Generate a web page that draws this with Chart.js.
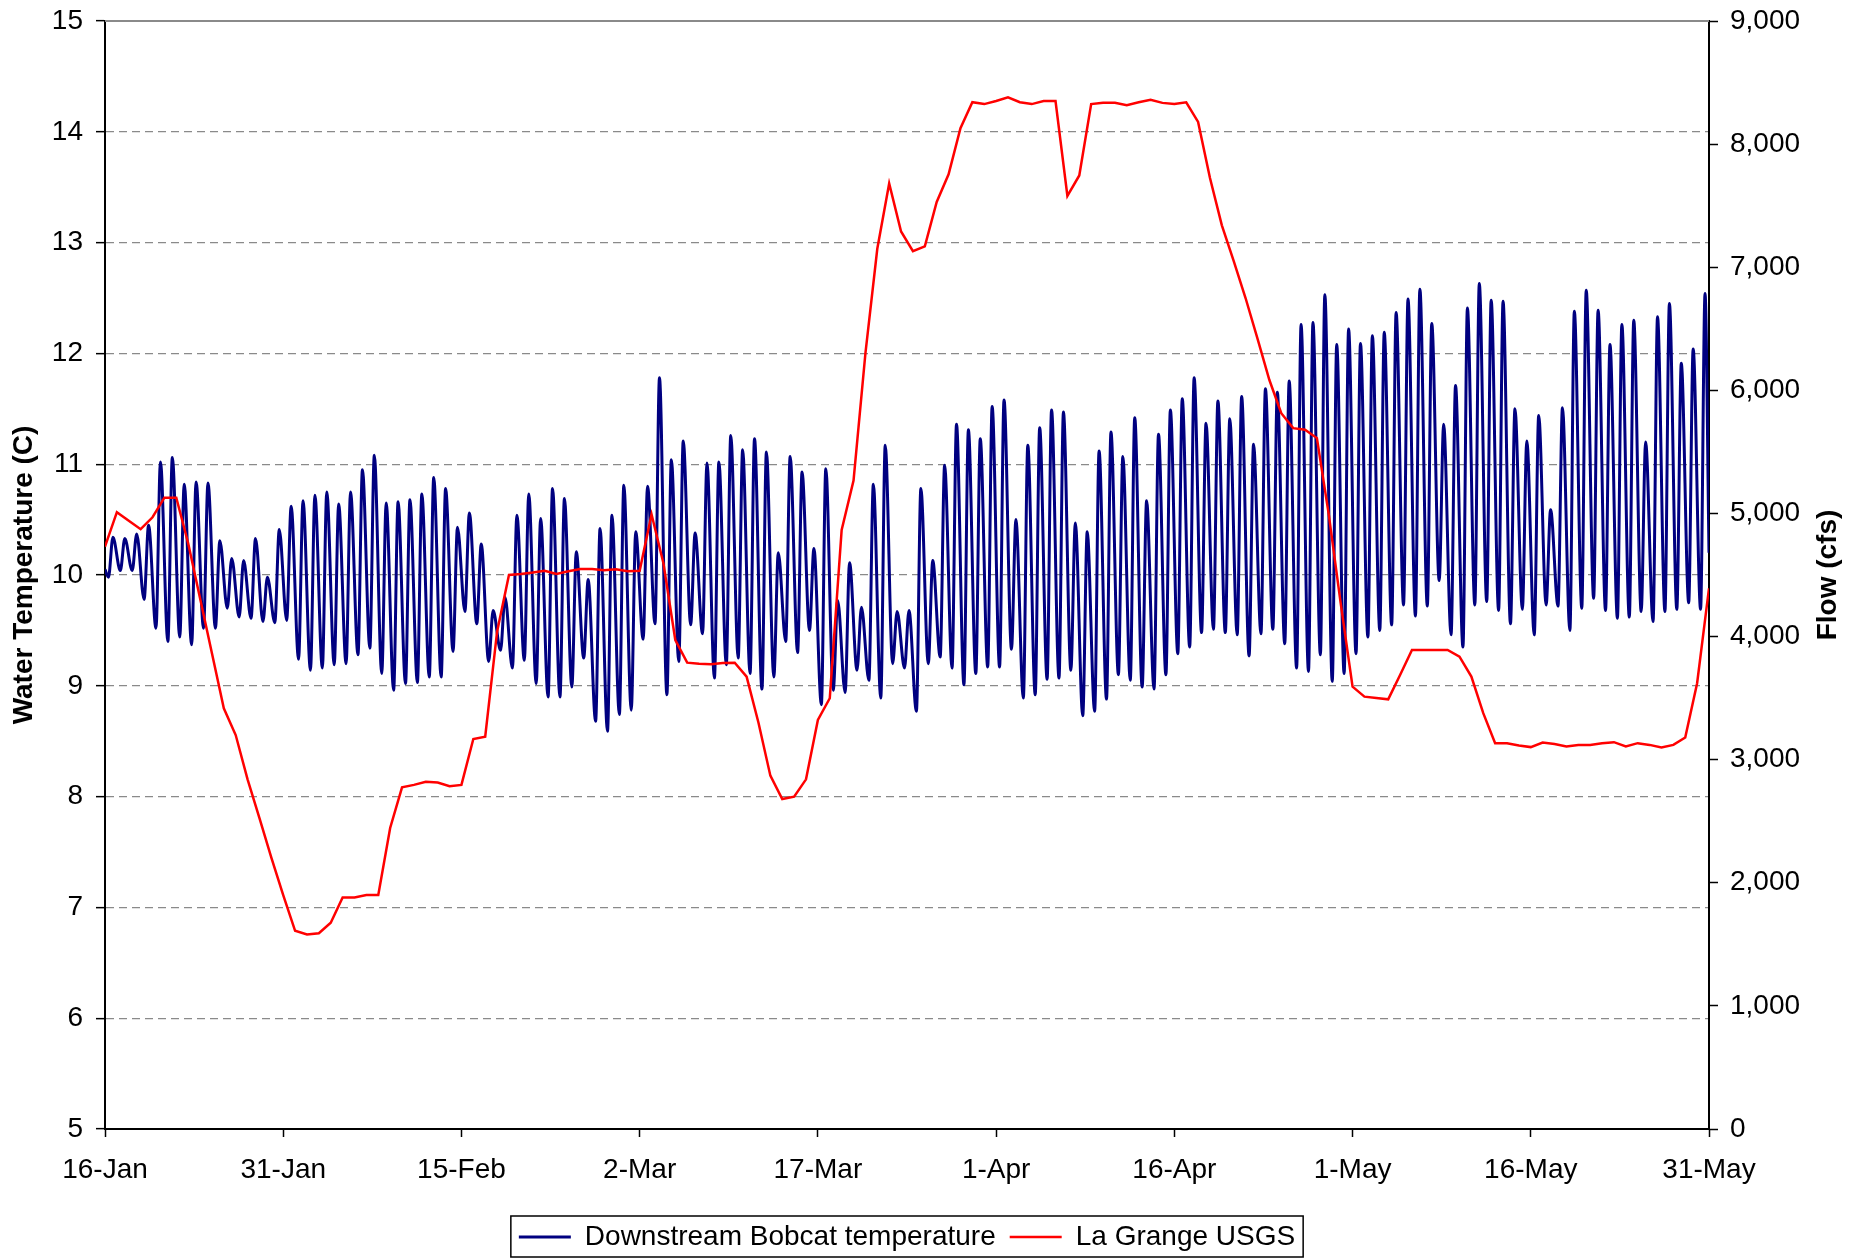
<!DOCTYPE html>
<html>
<head>
<meta charset="utf-8">
<title>Water temperature and flow</title>
<script src="https://cdn.jsdelivr.net/npm/chart.js@4.4.1/dist/chart.umd.min.js"></script>
<style>
  html, body { margin: 0; padding: 0; background: #fff; }
  #wrap { width: 1859px; height: 1258px; }
</style>
</head>
<body>
<div id="wrap"><canvas id="chart" width="1859" height="1258"></canvas></div>
<script>
// x axis: days since 16-Jan, labelled every 15 days
const dateLabels = ["16-Jan", "31-Jan", "15-Feb", "2-Mar", "17-Mar", "1-Apr", "16-Apr", "1-May", "16-May", "31-May"];
const labelStep = 15;

// Downstream Bobcat temperature (C): daily low (early morning) and daily high (afternoon)
const lowHour = 7;
const highHour = 16;
const tempStart = 10.05;
const tempEnd = 10.2;
const tempDailyLow = [
  9.98, 10.04, 10.04, 9.78, 9.52, 9.40, 9.44, 9.37, 9.52, 9.52,
  9.70, 9.62, 9.61, 9.58, 9.57, 9.59, 9.24, 9.14, 9.16, 9.19,
  9.20, 9.28, 9.34, 9.11, 8.96, 9.02, 9.03, 9.08, 9.08, 9.31,
  9.67, 9.56, 9.22, 9.32, 9.16, 9.23, 9.02, 8.90, 8.90, 8.99,
  9.25, 8.68, 8.59, 8.74, 8.78, 9.42, 9.56, 8.92, 9.22, 9.55,
  9.47, 9.07, 9.19, 9.25, 9.11, 8.97, 9.08, 9.40, 9.30, 9.50,
  8.83, 8.96, 8.94, 9.14, 9.05, 8.89, 9.20, 9.16, 8.77, 9.20,
  9.26, 9.16, 9.01, 9.11, 9.17, 9.17, 9.33, 8.89, 8.92, 9.06,
  9.07, 9.14, 8.73, 8.77, 8.88, 9.10, 9.05, 8.99, 8.97, 9.10,
  9.29, 9.35, 9.48, 9.51, 9.48, 9.46, 9.27, 9.47, 9.51, 9.38,
  9.16, 9.13, 9.28, 9.04, 9.11, 9.29, 9.44, 9.50, 9.55, 9.73,
  9.63, 9.72, 9.95, 9.46, 9.35, 9.73, 9.76, 9.68, 9.56, 9.69,
  9.46, 9.73, 9.72, 9.50, 9.70, 9.79, 9.68, 9.61, 9.62, 9.67,
  9.58, 9.67, 9.69, 9.75, 9.69
];
const tempDailyHigh = [
  10.34, 10.33, 10.37, 10.45, 11.02, 11.06, 10.82, 10.84, 10.83, 10.31,
  10.15, 10.13, 10.33, 9.98, 10.41, 10.62, 10.67, 10.72, 10.75, 10.64,
  10.75, 10.95, 11.08, 10.65, 10.66, 10.68, 10.73, 10.88, 10.78, 10.43,
  10.56, 10.28, 9.68, 9.80, 10.54, 10.73, 10.51, 10.78, 10.69, 10.21,
  9.96, 10.42, 10.54, 10.81, 10.39, 10.80, 11.78, 11.04, 11.21, 10.38,
  11.01, 11.02, 11.26, 11.13, 11.23, 11.11, 10.20, 11.07, 10.93, 10.24,
  10.96, 9.77, 10.11, 9.71, 10.82, 11.17, 9.67, 9.68, 10.78, 10.13,
  10.99, 11.36, 11.31, 11.23, 11.52, 11.58, 10.50, 11.17, 11.33, 11.49,
  11.47, 10.47, 10.39, 11.12, 11.29, 11.07, 11.42, 10.67, 11.27, 11.49,
  11.59, 11.78, 11.37, 11.57, 11.41, 11.61, 11.18, 11.68, 11.65, 11.75,
  12.26, 12.28, 12.53, 12.08, 12.22, 12.09, 12.16, 12.19, 12.37, 12.49,
  12.58, 12.27, 11.36, 11.71, 12.41, 12.63, 12.48, 12.47, 11.50, 11.21,
  11.44, 10.59, 11.51, 12.38, 12.57, 12.39, 12.08, 12.26, 12.30, 11.20,
  12.33, 12.45, 11.91, 12.04, 12.54
];

// La Grange USGS daily flow (cfs), 16-Jan .. 31-May
const flowCfs = [
  4730, 5010, 4940, 4872, 4969, 5128, 5128, 4758, 4311, 3864,
  3417, 3200, 2840, 2525, 2205, 1900, 1610, 1580, 1590, 1675,
  1880, 1880, 1900, 1900, 2445, 2775, 2795, 2820, 2815, 2785,
  2795, 3168, 3187, 4040, 4500, 4508, 4520, 4535, 4508, 4530,
  4549, 4549, 4538, 4546, 4530, 4535, 4993, 4595, 3972, 3788,
  3780, 3775, 3785, 3788, 3675, 3300, 2870, 2680, 2700, 2840,
  3323, 3499, 4866, 5267, 6301, 7150, 7680, 7290, 7130, 7170,
  7530, 7755, 8130, 8340, 8325, 8350, 8380, 8340, 8325, 8350,
  8350, 7580, 7745, 8325, 8335, 8335, 8315, 8340, 8360, 8335,
  8325, 8340, 8180, 7725, 7340, 7050, 6748, 6420, 6084, 5814,
  5693, 5680, 5612, 4990, 4271, 3593, 3512, 3500, 3490, 3688,
  3891, 3891, 3891, 3891, 3837, 3675, 3378, 3134, 3134, 3115,
  3102, 3139, 3128, 3107, 3120, 3120, 3134, 3142, 3107, 3134,
  3120, 3099, 3120, 3180, 3621, 4392
];

const fontFamily = "'Liberation Sans', Arial, sans-serif";
Chart.defaults.font.family = fontFamily;
Chart.defaults.color = "#000";

const tempPoints = [{ x: 0, y: tempStart }];
tempDailyLow.forEach((low, day) => {
  tempPoints.push({ x: day + lowHour / 24, y: low });
  tempPoints.push({ x: day + highHour / 24, y: tempDailyHigh[day] });
});
tempPoints.push({ x: tempDailyLow.length, y: tempEnd });

const flowPoints = flowCfs.map((v, day) => ({ x: day, y: v }));

// frame around the legend, grey top edge, right-hand title read bottom to top
const extras = {
  id: "extras",
  afterDraw(chart) {
    const ctx = chart.ctx;
    const area = chart.chartArea;
    ctx.save();
    ctx.strokeStyle = "#8a8a8a";
    ctx.lineWidth = 2;
    ctx.beginPath();
    ctx.moveTo(area.left, area.top);
    ctx.lineTo(area.right, area.top);
    ctx.stroke();

    const boxes = chart.legend.legendHitBoxes;
    if (boxes && boxes.length) {
      const left = Math.min(...boxes.map(b => b.left)) - 8;
      const right = Math.max(...boxes.map(b => b.left + b.width)) + 8;
      const top = Math.min(...boxes.map(b => b.top)) - 7;
      const bottom = Math.max(...boxes.map(b => b.top + b.height)) + 6;
      ctx.strokeStyle = "#000";
      ctx.lineWidth = 1.5;
      ctx.strokeRect(left, top, right - left, bottom - top);
    }

    const y1 = chart.scales.y1;
    ctx.translate(y1.right - 31, (area.top + area.bottom) / 2);
    ctx.rotate(-Math.PI / 2);
    ctx.fillStyle = "#000";
    ctx.font = "bold 28px " + fontFamily;
    ctx.textAlign = "center";
    ctx.textBaseline = "middle";
    ctx.fillText("Flow (cfs)", 0, 0);
    ctx.restore();
  }
};

const noEndPadding = s => { s.paddingTop = 0; s.paddingBottom = 0; };

new Chart(document.getElementById("chart"), {
  type: "line",
  data: {
    datasets: [
      {
        label: "Downstream Bobcat temperature",
        data: tempPoints,
        yAxisID: "y",
        borderColor: "#000080",
        backgroundColor: "#000080",
        borderWidth: 3,
        pointRadius: 0,
        cubicInterpolationMode: "monotone",
        order: 1
      },
      {
        label: "La Grange USGS",
        data: flowPoints,
        yAxisID: "y1",
        borderColor: "#ff0000",
        backgroundColor: "#ff0000",
        borderWidth: 2.5,
        pointRadius: 0,
        tension: 0,
        order: 0
      }
    ]
  },
  options: {
    responsive: false,
    animation: false,
    devicePixelRatio: 1,
    layout: { padding: { top: 21, left: 0, right: 0, bottom: -3 } },
    plugins: {
      tooltip: { enabled: false },
      legend: {
        position: "bottom",
        fullSize: false,
        labels: {
          usePointStyle: true,
          pointStyle: "line",
          pointStyleWidth: 52,
          padding: 14,
          color: "#000",
          font: { size: 28 },
          sort: (a, b) => a.datasetIndex - b.datasetIndex
        }
      }
    },
    scales: {
      x: {
        type: "linear",
        min: 0,
        max: (dateLabels.length - 1) * labelStep,
        ticks: {
          stepSize: labelStep,
          autoSkip: false,
          maxRotation: 0,
          padding: 16,
          font: { size: 28 },
          color: "#000",
          callback: v => dateLabels[Math.round(v / labelStep)]
        },
        grid: { drawOnChartArea: false, drawTicks: true, tickLength: 8, tickColor: "#000", tickWidth: 1.5 },
        border: { display: true, color: "#000", width: 2 },
        afterFit: s => { s.height = 80; }
      },
      y: {
        position: "left",
        min: 5,
        max: 15,
        ticks: { stepSize: 1, padding: 13, font: { size: 28 }, color: "#000" },
        grid: {
          color: c => (c.tick && (c.tick.value === 5 || c.tick.value === 15)) ? "rgba(0,0,0,0)" : "#8a8a8a",
          lineWidth: 1.3,
          tickLength: 9,
          tickColor: "#000",
          tickWidth: 1.5,
          tickBorderDash: []
        },
        border: { display: true, color: "#000", width: 2, dash: [8, 5] },
        title: {
          display: true,
          text: "Water Temperature (C)",
          color: "#000",
          font: { size: 28, weight: "bold" },
          padding: { top: 7, bottom: 0 }
        },
        afterFit: s => { s.width = 105; noEndPadding(s); }
      },
      y1: {
        position: "right",
        min: 0,
        max: 9000,
        ticks: {
          stepSize: 1000,
          padding: 12,
          font: { size: 28 },
          color: "#000",
          callback: v => v.toLocaleString("en-US")
        },
        grid: { drawOnChartArea: false, tickLength: 9, tickColor: "#000", tickWidth: 1.5 },
        border: { display: true, color: "#000", width: 2 },
        afterFit: s => { s.width = 150; noEndPadding(s); }
      }
    }
  },
  plugins: [extras]
});
</script>
</body>
</html>
